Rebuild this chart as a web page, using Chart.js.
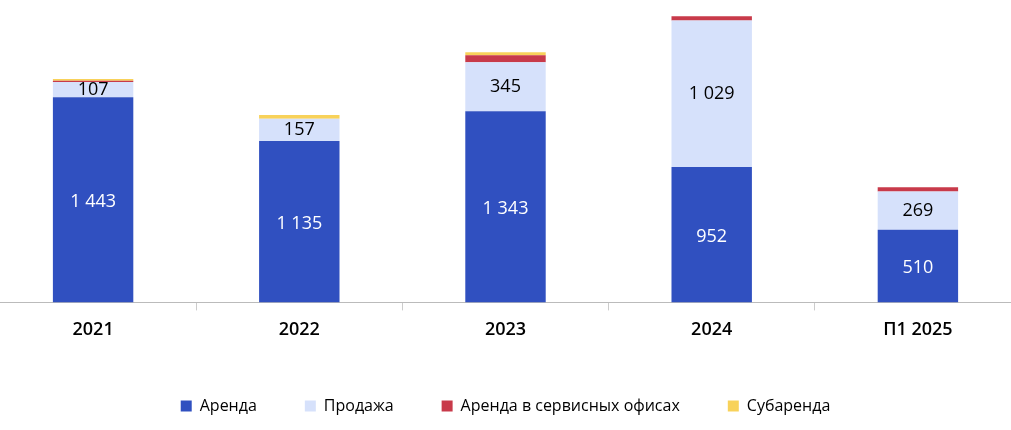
<!DOCTYPE html><html><head><meta charset="utf-8">
<script src="https://cdn.jsdelivr.net/npm/chart.js@4"></script>
<style>body{margin:0;background:#fff;overflow:hidden}#w{width:1031px;height:430px;margin-left:-10px}</style></head><body><div id="w"><canvas id="c"></canvas></div>
<script>
const categories=["2021","2022","2023","2024","П1 2025"];
const arenda=[1443,1135,1343,952,510];
const prodazha=[107,157,345,1029,269];
const servis=[8,0,50,30,30];
const subarenda=[12,25,20,0,0];
const lbl=v=>v>=1000?Math.floor(v/1000)+" "+String(v%1000).padStart(3,"0"):String(v);
const labelPlugin={id:"lbl",afterDatasetsDraw(ch){const ctx=ch.ctx;ctx.save();ctx.font="18px 'Open Sans', sans-serif";ctx.textAlign="center";ctx.textBaseline="middle";
[0,1].forEach(di=>{ch.getDatasetMeta(di).data.forEach((b,i)=>{const v=ch.data.datasets[di].data[i];ctx.fillStyle=di==0?"#fff":"#000";ctx.fillText(lbl(v),b.x,(b.y+b.base)/2+(di==0?2:0));});});ctx.restore();}};
new Chart(document.getElementById("c"),{type:"bar",data:{labels:categories,datasets:[
{label:"Аренда",data:arenda,backgroundColor:"#3050c0"},
{label:"Продажа",data:prodazha,backgroundColor:"#d6e1fb"},
{label:"Аренда в сервисных офисах",data:servis,backgroundColor:"#c83a4a"},
{label:"Субаренда",data:subarenda,backgroundColor:"#f8d25a"}]},
options:{responsive:true,maintainAspectRatio:false,animation:false,
layout:{padding:{top:0,left:0,right:0,bottom:6}},
datasets:{bar:{categoryPercentage:1,barPercentage:0.39,borderWidth:0}},
scales:{x:{stacked:true,grid:{offset:true,drawOnChartArea:false,tickLength:8,color:"#ccc"},border:{color:"#bbb"},ticks:{color:"#000",font:{size:18,weight:"600",family:"'Open Sans', sans-serif"},padding:9}},
y:{stacked:true,display:false,min:0,max:2126}},
plugins:{tooltip:{enabled:false},legend:{position:"bottom",labels:{boxWidth:11,boxHeight:11,padding:48,color:"#000",font:{size:16,family:"'Open Sans', sans-serif"}}}}},
plugins:[labelPlugin]});
</script></body></html>
